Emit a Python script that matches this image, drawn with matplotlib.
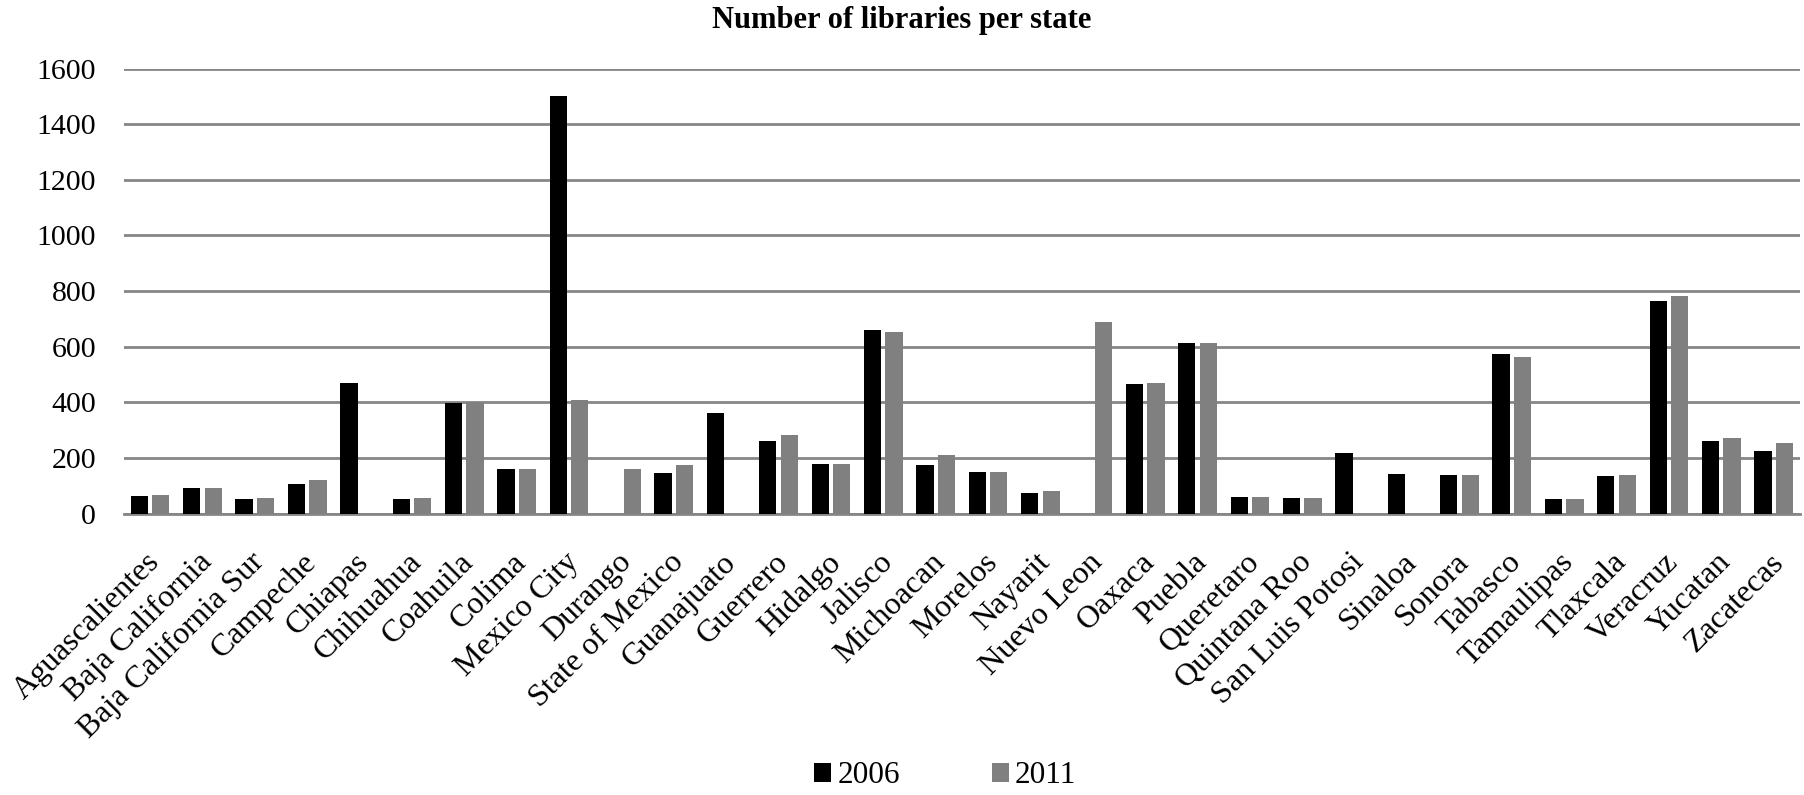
import numpy as np
import matplotlib
matplotlib.use("Agg")
import matplotlib.pyplot as plt
import matplotlib.transforms as mtransforms

# --- data ---
states = ["Aguascalientes", "Baja California", "Baja California Sur", "Campeche",
          "Chiapas", "Chihuahua", "Coahuila", "Colima", "Mexico City", "Durango",
          "State of Mexico", "Guanajuato", "Guerrero", "Hidalgo", "Jalisco",
          "Michoacan", "Morelos", "Nayarit", "Nuevo Leon", "Oaxaca", "Puebla",
          "Queretaro", "Quintana Roo", "San Luis Potosi", "Sinaloa", "Sonora",
          "Tabasco", "Tamaulipas", "Tlaxcala", "Veracruz", "Yucatan", "Zacatecas"]
libs_2006 = [63, 92, 52, 106, 471, 53, 398, 159, 1502, 0, 147, 363, 261, 179, 661,
             174, 151, 74, 0, 465, 612, 61, 56, 219, 143, 140, 573, 53, 135, 765, 262, 226]
libs_2011 = [67, 92, 57, 119, 0, 57, 401, 160, 408, 162, 175, 0, 283, 179, 654,
             211, 151, 81, 688, 470, 612, 60, 56, 0, 0, 140, 564, 52, 138, 781, 271, 254]
yticks = [0, 200, 400, 600, 800, 1000, 1200, 1400, 1600]

plt.rcParams['font.family'] = ['Liberation Serif', 'DejaVu Serif']

fig = plt.figure(figsize=(18.04, 7.95), dpi=100)
ax = fig.add_axes([0.0687, 0.354, 0.929, 0.5597])

x = np.arange(len(states))
w = 0.33
ax.bar(x - 0.205, libs_2006, width=w, color="black", label="2006", zorder=3)
ax.bar(x + 0.205, libs_2011, width=w, color="#808080", label="2011", zorder=3)

ax.set_xlim(-0.5, len(states) - 0.5)
ax.set_ylim(0, 1600)
ax.set_yticks(yticks)
ax.yaxis.grid(True, color="#868686", linewidth=2)
ax.set_axisbelow(True)
for s in ["top", "right", "left"]:
    ax.spines[s].set_visible(False)
ax.spines["bottom"].set_color("#868686")
ax.spines["bottom"].set_linewidth(2)
ax.tick_params(axis="both", length=0)
ax.tick_params(axis="y", labelsize=21.5, pad=20)
ax.set_xticks(x)
ax.set_xticklabels(states, rotation=45, ha="right", rotation_mode="anchor")
ax.tick_params(axis="x", labelsize=23, pad=16)

# nudge the slanted labels a bit down/left like the original
shift = mtransforms.ScaledTranslation(-5 / 100, -12 / 100, fig.dpi_scale_trans)
for lab in ax.get_xticklabels():
    lab.set_transform(lab.get_transform() + shift)

fig.text(0.5, 0.974, "Number of libraries per state", fontsize=22, fontweight="bold",
         ha="center", va="center")

fig.legend(loc="center", bbox_to_anchor=(0.524, 0.024), ncol=2, frameon=False,
           fontsize=22.5, handlelength=0.54, handleheight=0.54, handletextpad=0.2,
           columnspacing=2.95, borderpad=0)

fig.savefig("out.png", dpi=100)
